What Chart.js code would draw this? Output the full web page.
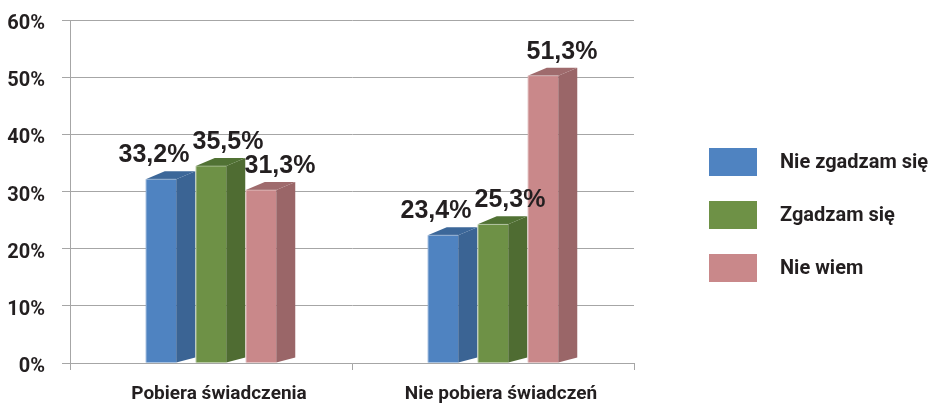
<!DOCTYPE html>
<html>
<head>
<meta charset="utf-8">
<script src="https://cdn.jsdelivr.net/npm/chart.js@4.4.1/dist/chart.umd.min.js"></script>
<style>
  html, body { margin: 0; padding: 0; background: #fff; }
  canvas { display: block; }
</style>
</head>
<body>
<canvas id="wykres" width="931" height="405"></canvas>
<script>
// dane z wykresu
const kategorie = ['Pobiera świadczenia', 'Nie pobiera świadczeń'];
const serie = ['Nie zgadzam się', 'Zgadzam się', 'Nie wiem'];
const nieZgadzamSie = [33.2, 23.4];
const zgadzamSie = [35.5, 25.3];
const nieWiem = [31.3, 51.3];
const osY = [0, 10, 20, 30, 40, 50, 60];

// kolory: przód, bok, góra
const kolory = [
  { front: '#4f83c1', side: '#3b6494', top: '#3c6799' },
  { front: '#6e9146', side: '#4f6c32', top: '#517234' },
  { front: '#c9888a', side: '#9a6668', top: '#9f6b6d' }
];
// przesunięcie etykiet w poziomie (żeby nie nachodziły na siebie)
const przesuniecieEtykiet = [-7, 17, 19];

const FONT = "Roboto, 'Liberation Sans', sans-serif";
const TEXT = '#231f20';
const GRID = '#a6a6a6';
// głębia słupka 3D: przód niżej o 6 px, tył wyżej o 2 px niż wartość
const DX = 19, DY = -8, PRZOD = 6, DY_BASE = -5;

const bryly3d = {
  id: 'bryly3d',
  beforeDatasetDraw() { return false; },
  afterDatasetsDraw(chart) {
    const ctx = chart.ctx;
    chart.data.datasets.forEach((ds, i) => {
      const meta = chart.getDatasetMeta(i);
      meta.data.forEach(el => {
        const p = el.getProps(['x', 'y', 'base', 'width'], true);
        const l = p.x - p.width / 2, r = p.x + p.width / 2;
        const y = p.y + PRZOD, base = p.base;
        ctx.save();
        // przód
        ctx.fillStyle = kolory[i].front;
        ctx.fillRect(l, y, p.width, base - y);
        // bok
        ctx.fillStyle = kolory[i].side;
        ctx.beginPath();
        ctx.moveTo(r, y);
        ctx.lineTo(r + DX, y + DY);
        ctx.lineTo(r + DX, base + DY_BASE);
        ctx.lineTo(r, base);
        ctx.closePath();
        ctx.fill();
        // góra
        ctx.fillStyle = kolory[i].top;
        ctx.beginPath();
        ctx.moveTo(l, y);
        ctx.lineTo(r, y);
        ctx.lineTo(r + DX, y + DY);
        ctx.lineTo(l + DX, y + DY);
        ctx.closePath();
        ctx.fill();
        // jasna krawędź
        ctx.strokeStyle = 'rgba(255,255,255,0.35)';
        ctx.lineWidth = 1;
        ctx.beginPath();
        ctx.moveTo(l + 0.5, base);
        ctx.lineTo(l + 0.5, y);
        ctx.lineTo(r, y);
        ctx.stroke();
        ctx.restore();
      });
    });
  }
};

const etykiety = {
  id: 'etykiety',
  afterDraw(chart) {
    const ctx = chart.ctx;
    ctx.save();
    ctx.font = "bold 25px 'Liberation Sans', Arial, sans-serif";
    ctx.fillStyle = TEXT;
    ctx.textAlign = 'center';
    ctx.textBaseline = 'alphabetic';
    chart.data.datasets.forEach((ds, i) => {
      chart.getDatasetMeta(i).data.forEach((el, j) => {
        const { x, y } = el.getProps(['x', 'y'], true);
        const txt = ds.data[j].toFixed(1).replace('.', ',') + '%';
        ctx.fillText(txt, x + przesuniecieEtykiet[i], y - 11);
      });
    });

    // legenda
    const lx = 709, ly = 148, krok = 53;
    ctx.font = 'bold 20px ' + FONT;
    ctx.textAlign = 'left';
    ctx.textBaseline = 'middle';
    chart.data.datasets.forEach((ds, i) => {
      const top = ly + i * krok;
      ctx.fillStyle = ds.backgroundColor;
      ctx.fillRect(lx, top, 48, 28);
      ctx.fillStyle = TEXT;
      ctx.fillText(ds.label, 780, top + 15);
    });
    ctx.restore();
  }
};

new Chart(document.getElementById('wykres'), {
  type: 'bar',
  data: {
    labels: kategorie,
    datasets: [
      { label: serie[0], data: nieZgadzamSie, backgroundColor: kolory[0].front },
      { label: serie[1], data: zgadzamSie, backgroundColor: kolory[1].front },
      { label: serie[2], data: nieWiem, backgroundColor: kolory[2].front }
    ]
  },
  options: {
    responsive: false,
    animation: false,
    categoryPercentage: 0.532,
    barPercentage: 0.61,
    layout: { padding: { top: 20, right: 297, bottom: 0, left: 0 } },
    plugins: {
      legend: { display: false },
      tooltip: { enabled: false }
    },
    scales: {
      x: {
        afterFit: s => { s.height = 42; s.paddingLeft = 0; s.paddingRight = 0; },
        grid: { display: true, drawOnChartArea: false, color: GRID, tickLength: 7 },
        border: { color: GRID },
        ticks: {
          color: TEXT,
          padding: 14,
          labelOffset: 8,
          font: { family: FONT, size: 19, weight: 'bold', lineHeight: 1.1 }
        }
      },
      y: {
        min: 0,
        max: 60,
        afterBuildTicks: s => { s.ticks = osY.map(v => ({ value: v })); },
        afterFit: s => { s.width = 70; s.paddingTop = 0; s.paddingBottom = 0; },
        grid: { color: GRID, tickLength: 8 },
        border: { color: GRID },
        ticks: {
          color: TEXT,
          padding: 17,
          labelOffset: 4,
          font: { family: FONT, size: 20, weight: 'bold' },
          callback: v => v + '%'
        }
      }
    }
  },
  plugins: [bryly3d, etykiety]
});
</script>
</body>
</html>
